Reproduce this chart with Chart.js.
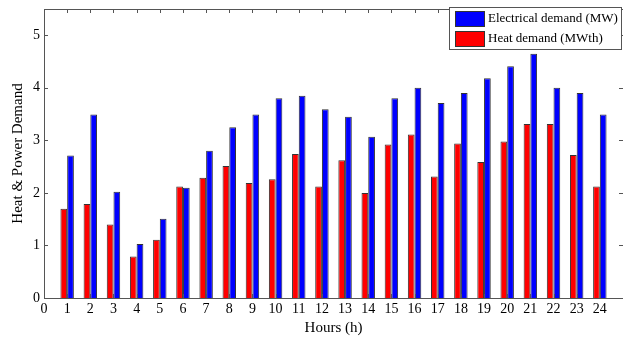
<!DOCTYPE html>
<html>
<head>
<meta charset="utf-8">
<script src="https://cdn.jsdelivr.net/npm/chart.js@4/dist/chart.umd.min.js"></script>
<style>
  html, body { margin: 0; padding: 0; background: #fff; }
  #c { display: block; }
</style>
</head>
<body>
<canvas id="c" width="623" height="341"></canvas>
<script>
// Hourly demand profile over one day
const hours = [1, 2, 3, 4, 5, 6, 7, 8, 9, 10, 11, 12, 13, 14, 15, 16, 17, 18, 19, 20, 21, 22, 23, 24];
const heatDemand = [1.70, 1.79, 1.40, 0.79, 1.11, 2.12, 2.29, 2.51, 2.19, 2.26, 2.74, 2.12,
                    2.62, 2.00, 2.92, 3.11, 2.31, 2.94, 2.59, 2.98, 3.31, 3.31, 2.72, 2.12];
const electricalDemand = [2.71, 3.49, 2.02, 1.03, 1.51, 2.10, 2.80, 3.25, 3.49, 3.80, 3.85, 3.59,
                          3.45, 3.07, 3.80, 4.00, 3.71, 3.90, 4.18, 4.41, 4.65, 4.00, 3.90, 3.49];
const xTicks = [0, 1, 2, 3, 4, 5, 6, 7, 8, 9, 10, 11, 12, 13, 14, 15, 16, 17, 18, 19, 20, 21, 22, 23, 24];
const yTicks = [0, 1, 2, 3, 4, 5];
const seriesLabels = ['Heat demand (MWth)', 'Electrical demand (MW)'];

const serif = '"Liberation Serif", "DejaVu Serif", serif';
const frameColor = '#555';

// Box around the plot area with small inward tick marks on all four sides
const framePlugin = {
  id: 'frame',
  afterDatasetsDraw(chart) {
    const { ctx, chartArea: a, scales } = chart;
    const len = 4;
    ctx.save();
    ctx.strokeStyle = frameColor;
    ctx.lineWidth = 1;
    ctx.beginPath();
    xTicks.forEach(v => {
      const x = Math.round(scales.x.getPixelForValue(v)) + 0.5;
      ctx.moveTo(x, a.bottom); ctx.lineTo(x, a.bottom - len);
      ctx.moveTo(x, a.top); ctx.lineTo(x, a.top + len);
    });
    yTicks.forEach(v => {
      const y = Math.round(scales.y.getPixelForValue(v)) + 0.5;
      ctx.moveTo(a.left, y); ctx.lineTo(a.left + len, y);
      ctx.moveTo(a.right, y); ctx.lineTo(a.right - len, y);
    });
    ctx.stroke();
    ctx.strokeRect(Math.round(a.left) + 0.5, Math.round(a.top) + 0.5,
                   Math.round(a.right - a.left), Math.round(a.bottom - a.top));
    ctx.restore();
  }
};

// Boxed legend in the upper-right corner (electrical first, then heat)
const legendPlugin = {
  id: 'boxLegend',
  afterDraw(chart) {
    const { ctx, chartArea: a } = chart;
    const order = [1, 0];
    const left = 449, top = a.top - 2, right = 621, rowH = 20;
    ctx.save();
    ctx.fillStyle = '#fff';
    ctx.fillRect(left, top, right - left, 42);
    ctx.strokeStyle = frameColor;
    ctx.lineWidth = 1;
    ctx.strokeRect(left + 0.5, top + 0.5, right - left, 42);
    ctx.font = '13px ' + serif;
    ctx.textBaseline = 'middle';
    order.forEach((di, i) => {
      const ds = chart.data.datasets[di];
      const y = top + 4 + i * rowH;
      ctx.fillStyle = ds.backgroundColor;
      ctx.fillRect(left + 6, y, 29, 15);
      ctx.strokeStyle = '#333';
      ctx.strokeRect(left + 6.5, y + 0.5, 29, 15);
      ctx.fillStyle = '#000';
      ctx.fillText(ds.label, left + 39, y + 8);
    });
    ctx.restore();
  }
};

new Chart(document.getElementById('c'), {
  type: 'bar',
  data: {
    datasets: [
      {
        label: seriesLabels[0],
        data: hours.map((h, i) => ({ x: h, y: heatDemand[i] })),
        backgroundColor: '#ff0000',
        borderColor: '#333',
        borderWidth: 1,
        categoryPercentage: 0.58,
        barPercentage: 1.0
      },
      {
        label: seriesLabels[1],
        data: hours.map((h, i) => ({ x: h, y: electricalDemand[i] })),
        backgroundColor: '#0000ff',
        borderColor: '#333',
        borderWidth: 1,
        categoryPercentage: 0.58,
        barPercentage: 1.0
      }
    ]
  },
  options: {
    responsive: false,
    animation: false,
    layout: { padding: { top: 9, right: 0, left: 0, bottom: 0 } },
    plugins: {
      legend: { display: false },
      tooltip: { enabled: false }
    },
    scales: {
      x: {
        type: 'linear',
        min: 0,
        max: 25,
        offset: false,
        grid: { display: false, drawTicks: false },
        border: { display: false },
        afterBuildTicks(scale) { scale.ticks = xTicks.map(v => ({ value: v })); },
        afterFit(scale) { scale.height = 43; scale.paddingLeft = 0; scale.paddingRight = 0; },
        ticks: {
          autoSkip: false,
          maxRotation: 0,
          padding: 3,
          color: '#000',
          font: { family: serif, size: 14 },
          callback: v => String(v)
        },
        title: {
          display: true,
          text: 'Hours (h)',
          color: '#000',
          font: { family: serif, size: 15 },
          padding: { top: 0, bottom: 4 }
        }
      },
      y: {
        min: 0,
        max: 5.5,
        grid: { display: false, drawTicks: false },
        border: { display: false },
        afterBuildTicks(scale) { scale.ticks = yTicks.map(v => ({ value: v })); },
        afterFit(scale) { scale.width = 44; scale.paddingTop = 0; scale.paddingBottom = 0; },
        ticks: {
          padding: 4,
          color: '#000',
          font: { family: serif, size: 14 },
          callback: v => String(v)
        },
        title: {
          display: true,
          text: 'Heat & Power Demand',
          color: '#000',
          font: { family: serif, size: 15 },
          padding: { top: 9, bottom: 0 }
        }
      }
    }
  },
  plugins: [framePlugin, legendPlugin]
});
</script>
</body>
</html>
